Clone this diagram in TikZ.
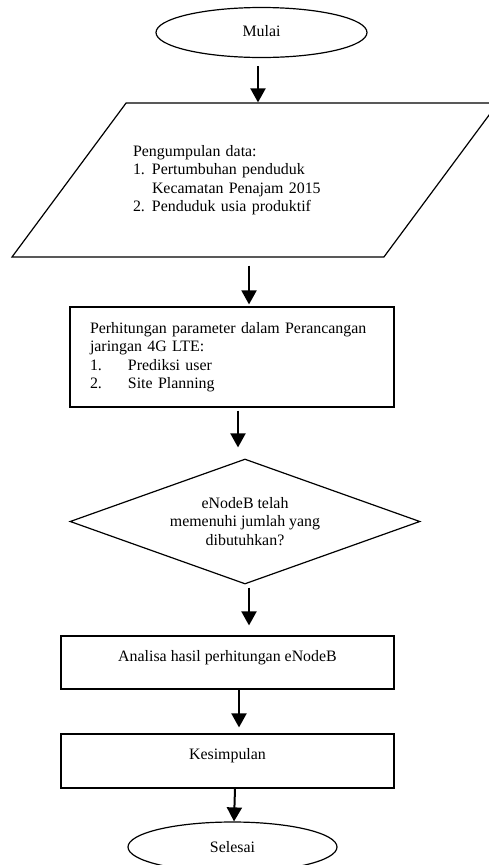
\documentclass[tikz,border=0pt]{standalone}
\usepackage{fontspec}
\setmainfont{Liberation Serif}
\usepackage{tikz}
\usetikzlibrary{shapes.geometric,arrows.meta}
\newcommand{\flowfont}{\fontsize{15.9}{18.5}\selectfont}
\tikzset{
  term/.style={ellipse,draw,line width=1.2pt,inner sep=0pt,font=\flowfont},
  io/.style={trapezium,trapezium left angle=31.5,trapezium right angle=148.5,trapezium stretches body,draw,line width=1.2pt,inner sep=0pt,align=left,font=\flowfont},
  box/.style={rectangle,draw,line width=1.2pt,inner sep=0pt,font=\flowfont},
  dec/.style={diamond,aspect=2.8,draw,line width=1.2pt,inner sep=0pt,align=center,font=\flowfont},
  arr/.style={line width=2pt,-{Triangle[width=15pt,length=14pt]}}
}

\begin{document}
\begin{tikzpicture}[x=1pt,y=-1pt]
\useasboundingbox (0,0) rectangle (489,865);
% bentuk
\node[term,minimum width=211pt,minimum height=50pt,text depth=3pt] (mulai) at (261.5,32.5) {Mulai};
\node[io,text width=244pt,minimum width=486pt,minimum height=154pt] (data) at (255,180)
  {Pengumpulan data:\\ \makebox[19pt][l]{1.}Pertumbuhan penduduk\\ \hspace*{19pt}Kecamatan Penajam 2015\\ \makebox[19pt][l]{2.}Penduduk usia produktif};
\node[box,minimum width=324pt,minimum height=100pt,text width=284pt,align=left] (hitung) at (232,357)
  {Perhitungan parameter dalam Perancangan\\ jaringan 4G LTE:\\ \makebox[38pt][l]{1.}Prediksi user\\ \makebox[38pt][l]{2.}Site Planning};
\node[dec,minimum width=350pt,minimum height=125pt] (cek) at (245,521.5) {eNodeB telah\\ memenuhi jumlah yang\\ dibutuhkan?};
\node[box,minimum width=333pt,minimum height=53pt,text height=11pt,text depth=14pt] (analisa) at (227.5,662.5) {Analisa hasil perhitungan eNodeB};
\node[box,minimum width=333pt,minimum height=54pt,text height=11pt,text depth=14pt] (simpul) at (227.5,761) {Kesimpulan};
\node[term,minimum width=209pt,minimum height=50pt] (selesai) at (232.5,847) {Selesai};
% panah
\draw[arr] ([xshift=-3.5pt,yshift=-8pt]mulai.south) -- ([xshift=-3.5pt]mulai.south |- data.north);
\draw[arr] ([xshift=-6pt,yshift=-8pt]data.south) -- ([xshift=-6pt,yshift=2pt]data.south |- hitung.north);
\draw[arr] ([xshift=6pt,yshift=-3pt]hitung.south) -- ([xshift=6pt,yshift=11pt]hitung.south |- cek.north);
\draw[arr] ([xshift=4pt,yshift=-3pt]cek.south) -- ([xshift=4pt,yshift=10pt]cek.south |- analisa.north);
\draw[arr] ([xshift=11.5pt]analisa.south) -- ([xshift=11.5pt,yshift=6pt]analisa.south |- simpul.north);
\draw[arr] ([xshift=7.5pt]simpul.south) -- ([xshift=6.5pt]simpul.south |- selesai.north);
\end{tikzpicture}
\end{document}
